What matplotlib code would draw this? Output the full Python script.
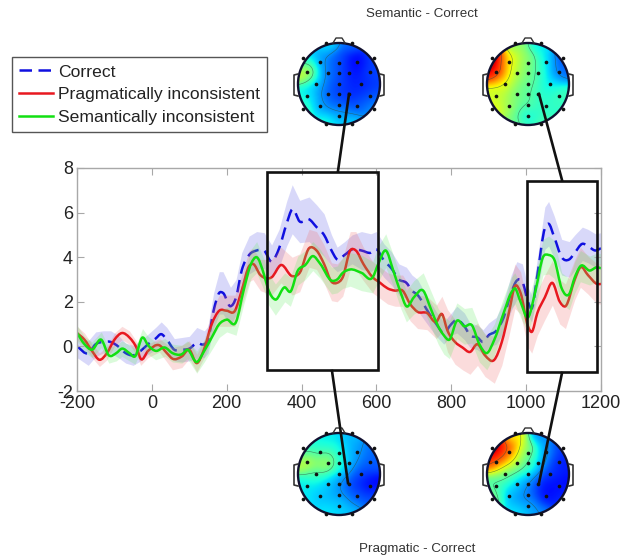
import numpy as np
import matplotlib
matplotlib.use('Agg')
from matplotlib import pyplot as plt
from matplotlib.lines import Line2D
from matplotlib.patches import Circle, PathPatch, Rectangle
from matplotlib.path import Path

plt.rcParams['font.family'] = ['Liberation Sans', 'DejaVu Sans']
plt.rcParams['axes.unicode_minus'] = False

W, H = 621, 556

# --- ERP curves ---
correct_t = [-200,-170,-150,-130,-110,-90,-70,-50,-30,-10,
             10,25,40,60,80,100,120,140,150,165,
             180,190,210,225,240,260,280,300,320,340,
             360,375,395,420,440,460,480,495,515,535,
             560,585,600,620,640,660,680,695,710,740,
             760,780,800,815,835,850,870,885,900,920,
             940,960,975,990,1005,1015,1030,1050,1060,1075,
             1095,1115,1130,1150,1165,1185,1200]
correct_v = [0.0,-0.3,0.1,0.2,0.2,0.0,-0.3,-0.4,-0.2,0.1,
             0.35,0.55,0.3,-0.15,-0.15,-0.1,0.15,0.1,0.3,1.6,
             2.4,2.4,1.8,2.2,3.4,4.1,4.3,4.3,3.8,4.4,
             5.5,6.15,5.6,5.7,5.35,5.0,4.3,3.9,4.1,4.35,
             4.3,4.2,4.35,3.85,3.5,3.0,2.85,2.5,2.3,1.5,
             1.0,0.6,1.0,1.2,0.9,0.5,0.4,0.2,0.5,0.7,
             1.3,2.4,2.95,2.9,2.0,1.7,3.2,5.3,5.5,4.9,
             4.0,3.9,4.2,4.6,4.5,4.3,4.4]
correct_err = [0.5,0.55,0.55,0.5,0.5,0.5,0.45,0.45,0.45,0.45,
               0.5,0.55,0.55,0.5,0.55,0.55,0.7,0.6,0.6,0.8,
               0.95,0.95,0.85,0.8,0.8,0.85,0.85,0.8,0.75,0.85,
               1.0,1.1,0.95,1.0,1.0,0.95,0.7,0.55,0.6,0.65,
               0.85,0.85,0.8,0.75,0.75,0.7,0.7,0.7,0.7,0.6,
               0.55,0.5,0.5,0.6,0.6,0.55,0.55,0.55,0.55,0.6,
               0.7,0.8,0.85,0.8,0.65,0.6,0.75,0.95,1.0,0.95,
               0.8,0.8,0.8,0.75,0.75,0.75,0.7]

pragmatic_t = [-200,-180,-160,-140,-120,-100,-80,-60,-40,-30,
               -10,20,40,55,80,100,120,140,160,180,
               200,222,240,260,270,290,320,345,375,395,
               420,440,460,480,495,510,530,545,565,590,
               610,630,650,670,690,710,735,760,775,790,
               810,830,850,870,890,915,935,955,970,985,
               1005,1015,1030,1050,1070,1090,1105,1130,1145,1165,
               1190,1200]
pragmatic_v = [0.6,0.3,-0.2,-0.6,-0.3,0.3,0.6,0.4,-0.1,-0.55,
               -0.2,0.05,-0.3,-0.55,-0.45,-0.15,-0.75,-0.1,1.0,1.6,
               1.6,1.6,2.5,3.6,3.7,3.2,3.1,3.65,3.15,3.3,
               4.4,4.3,3.7,2.9,2.85,3.1,4.3,4.3,3.7,3.1,
               2.85,2.6,2.5,2.5,1.9,1.55,1.5,1.1,1.45,0.7,
               0.2,-0.05,-0.25,0.1,-0.4,-0.6,0.2,1.6,2.7,2.4,
               0.9,0.65,1.5,2.2,2.85,2.0,1.8,3.0,3.55,3.2,
               2.8,2.8]
pragmatic_err = [0.3,0.3,0.3,0.3,0.3,0.3,0.3,0.3,0.3,0.3,
                 0.3,0.3,0.4,0.5,0.5,0.4,0.4,0.4,0.6,0.7,
                 0.7,0.7,0.7,0.7,0.7,0.7,0.8,0.8,0.85,0.85,
                 0.85,0.85,0.85,0.85,0.85,0.85,0.85,0.85,0.75,0.7,
                 0.7,0.7,0.7,0.7,0.75,0.75,0.75,0.75,0.8,0.95,
                 1.0,1.0,1.0,0.95,0.95,1.05,1.05,1.05,1.0,0.95,
                 0.95,0.95,1.0,1.0,1.0,1.0,1.0,0.9,0.9,0.85,
                 0.9,0.9]

semantic_t = [-200,-180,-160,-135,-115,-95,-80,-60,-45,-25,
              -10,10,35,55,80,95,120,140,160,180,
              200,225,245,265,280,300,310,330,355,370,
              390,410,430,450,480,495,510,530,560,590,
              605,625,645,665,680,700,725,745,765,780,
              795,815,835,855,875,895,915,940,960,970,
              985,1005,1025,1045,1060,1075,1095,1115,1130,1145,
              1170,1190,1200]
semantic_v = [0.6,0.1,-0.15,0.3,-0.4,-0.3,-0.1,-0.3,-0.45,0.4,
              0.05,-0.2,-0.05,-0.3,-0.35,-0.15,-0.7,-0.2,0.4,1.0,
              1.2,1.1,2.5,3.7,4.0,3.2,2.6,2.1,2.65,2.45,
              3.4,3.65,4.05,3.7,2.95,3.0,3.3,3.45,3.3,3.1,
              3.7,4.3,3.4,2.4,1.8,2.2,2.5,1.7,0.9,0.5,
              0.3,1.15,0.9,0.95,0.1,-0.3,0.3,1.5,2.4,2.6,
              2.0,1.3,2.5,4.0,4.1,3.9,2.6,2.35,3.1,3.6,
              3.4,3.55,3.5]
semantic_err = [0.35,0.35,0.35,0.35,0.35,0.35,0.35,0.35,0.35,0.4,
                0.4,0.4,0.4,0.4,0.4,0.4,0.5,0.5,0.55,0.6,
                0.55,0.6,0.65,0.65,0.7,0.7,0.7,0.7,0.65,0.65,
                0.65,0.65,0.65,0.65,0.6,0.6,0.7,0.75,0.8,0.7,
                0.8,0.75,0.7,0.7,0.7,0.75,0.8,0.8,0.8,0.85,
                0.85,0.8,0.8,0.8,0.8,0.75,0.7,0.7,0.7,0.7,
                0.7,0.7,0.75,0.8,0.85,0.85,0.7,0.7,0.7,0.7,
                0.65,0.65,0.65]

x_ticks = [-200,0,200,400,600,800,1000,1200]
y_ticks = [-2,0,2,4,6,8]

# --- scalp maps: electrode positions and map values (0..1 on jet) ---
elec_x = [-.46,-.01,.44,-.78,-.26,-.01,.25,.76,-.55,-.01,.53,-.78,-.26,-.01,.25,.76,-.46,-.01,.44,-.01]
elec_y = [.54,.52,.54,.30,.26,.26,.26,.30,0,0,0,-.29,-.25,-.25,-.25,-.29,-.53,-.51,-.53,-.77]
rim_x = [-.87,-.32,.32,.86,-.87,-.32,.32,.86]
rim_y = [.64,1.0,1.0,.64,-.61,-.98,-.98,-.61]

map_sem_early = [.2,.13,.03,.62,.2,.13,.06,.12,.24,.12,.08,.3,.16,.1,.08,.12,.22,.16,.14,.24,
                 .28,.28,.16,.12,.4,.35,.28,.22]
map_sem_late = [.62,.48,.3,.9,.55,.45,.35,.16,.58,.42,.3,.55,.45,.42,.33,.38,.5,.42,.35,.28,
                1.0,.48,.3,.12,.62,.45,.4,.35]
map_prag_early = [.33,.3,.22,.58,.62,.35,.22,.14,.36,.27,.12,.3,.28,.2,.08,.03,.25,.22,.15,.28,
                  .32,.3,.25,.16,.3,.3,.25,.15]
map_prag_late = [.82,.5,.22,.82,.55,.4,.22,.07,.42,.3,.1,.38,.3,.2,.05,.05,.22,.15,.05,.25,
                 .98,.62,.2,.1,.5,.3,.2,.1]

head_x = [339, 528, 339, 528]
head_y = [84, 84, 474, 474]
head_maps = [map_sem_early, map_sem_late, map_prag_early, map_prag_late]
head_r = 41


def smooth_path(x, y):
    # bezier through the read values, so the trace is not a jagged polyline
    x, y = np.asarray(x, float), np.asarray(y, float)
    slope = np.gradient(y, x)
    h = np.diff(x) / 3
    verts = [(x[0], y[0])]
    codes = [Path.MOVETO]
    for i in range(len(x) - 1):
        verts += [(x[i] + h[i], y[i] + slope[i] * h[i]),
                  (x[i + 1] - h[i], y[i + 1] - slope[i + 1] * h[i]),
                  (x[i + 1], y[i + 1])]
        codes += [Path.CURVE4] * 3
    return Path(verts, codes)


fig = plt.figure(figsize=(W / 100, H / 100), dpi=100, facecolor='white')

ax = fig.add_axes([77 / W, 1 - 391 / H, (601 - 77) / W, (391 - 168) / H])
blue, red, green = '#1010e0', '#e81820', '#12e012'
dashed = (0, (5, 2.6))
series = [(correct_t, correct_v, correct_err, '#5a5ae6', blue, dashed),
          (pragmatic_t, pragmatic_v, pragmatic_err, '#f06a6a', red, 'solid'),
          (semantic_t, semantic_v, semantic_err, '#62ec62', green, 'solid')]
handles = []
for t, v, err, band, col, style in series:
    t, v, err = np.array(t), np.array(v), np.array(err)
    ax.fill_between(t, v - err, v + err, color=band, alpha=0.23, lw=0)
    ax.add_patch(PathPatch(smooth_path(t, v), fill=False, ec=col, lw=1.8, ls=style, joinstyle='round'))
    handles.append(Line2D([], [], color=col, lw=1.8, ls=style))
ax.set_xlim(-200, 1200)
ax.set_ylim(-2, 8)
ax.set_xticks(x_ticks)
ax.set_yticks(y_ticks)
ax.tick_params(direction='in', top=True, right=True, length=5, width=0.8,
               color='#a8a8a8', labelsize=13, labelcolor='#222222', pad=3)
for s in ax.spines.values():
    s.set_color('#a8a8a8')
    s.set_linewidth(1.0)

fig.legend(handles, ['Correct', 'Pragmatically inconsistent', 'Semantically inconsistent'],
           loc='upper left', bbox_to_anchor=(12 / W, 1 - 57 / H), borderaxespad=0,
           fontsize=12.6, fancybox=False, framealpha=1, edgecolor='#555555',
           labelcolor='#222222', handlelength=1.95, handletextpad=0.25,
           labelspacing=0.42, borderpad=0.42)

# overlay in pixel coordinates for the boxes, scalp maps and connectors
ov = fig.add_axes([0, 0, 1, 1], zorder=5)
ov.set_xlim(0, W)
ov.set_ylim(H, 0)
ov.axis('off')

ov.add_patch(Rectangle((267, 172), 111, 198, fill=False, ec='#111111', lw=1.9))
ov.add_patch(Rectangle((527, 181), 70, 191, fill=False, ec='#111111', lw=1.9))

grid = np.linspace(-1, 1, 161)
gx, gy = np.meshgrid(grid, grid)
all_x = np.array(elec_x + rim_x)
all_y = np.array(elec_y + rim_y)
for cx, cy, vals in zip(head_x, head_y, head_maps):
    vals = np.array(vals)
    d2 = (gx[..., None] - all_x) ** 2 + (gy[..., None] - all_y) ** 2
    wt = np.exp(-d2 / (2 * 0.2 ** 2))
    field = (wt * vals).sum(-1) / wt.sum(-1)
    ext = (cx - head_r, cx + head_r, cy + head_r, cy - head_r)
    clip = Circle((cx, cy), head_r, transform=ov.transData)
    im = ov.imshow(field, cmap='jet', vmin=-0.09, vmax=1, extent=ext, origin='lower',
                   interpolation='bilinear', aspect='auto', zorder=2)
    im.set_clip_path(clip)
    px = cx + gx * head_r
    py = cy - gy * head_r
    cs = ov.contour(px, py, field, levels=[.2, .4, .6, .8], colors='#305040',
                    linewidths=0.4, alpha=0.7, zorder=3)
    cs.set_clip_path(clip)
    ov.add_patch(Circle((cx, cy), head_r, fill=False, ec='#101030', lw=1.7, zorder=4))
    # nose and ears
    ov.plot([cx - 6, cx - 3, cx + 3, cx + 6], [cy - head_r, cy - head_r - 5, cy - head_r - 5, cy - head_r],
            color='#333333', lw=1.0, zorder=4)
    for side in (-1, 1):
        ov.plot([cx + side * 41, cx + side * 45, cx + side * 45, cx + side * 41],
                [cy - 10, cy - 9, cy + 11, cy + 12], color='#333333', lw=1.2, zorder=4)
    ov.scatter(cx + np.array(elec_x) * head_r, cy - np.array(elec_y) * head_r, s=7,
               color='#111111', lw=0, zorder=5)
    ov.scatter(cx + np.array(rim_x) * head_r, cy - np.array(rim_y) * head_r, s=7,
               color='#111111', lw=0, zorder=5)

# connectors from the scalp maps to the boxes
ov.plot([338, 349], [171, 94], color='#111111', lw=1.9, zorder=6)
ov.plot([562, 539], [180, 94], color='#111111', lw=1.9, zorder=6)
ov.plot([332, 348], [371, 483], color='#111111', lw=1.9, zorder=6)
ov.plot([562, 539], [373, 483], color='#111111', lw=1.9, zorder=6)

ov.text(422, 14, 'Semantic - Correct', ha='center', va='center', fontsize=9.6, color='#333333')
ov.text(417, 549, 'Pragmatic - Correct', ha='center', va='center', fontsize=9.6, color='#333333')

fig.savefig('out.png', dpi=100)
